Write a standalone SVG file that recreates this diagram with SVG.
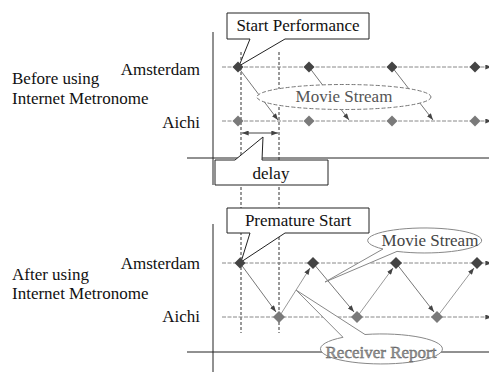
<svg xmlns="http://www.w3.org/2000/svg" width="489" height="372" viewBox="0 0 489 372" font-family="'Liberation Serif', 'DejaVu Serif', serif">
<defs>
<marker id="ah" viewBox="0 0 8 6" refX="8" refY="3" markerWidth="7" markerHeight="5" markerUnits="userSpaceOnUse" orient="auto"><path d="M0,0 L8,3 L0,6 z" fill="#444"/></marker>
<marker id="ahs" viewBox="0 0 8 6" refX="0" refY="3" markerWidth="7" markerHeight="5" markerUnits="userSpaceOnUse" orient="auto"><path d="M8,0 L0,3 L8,6 z" fill="#444"/></marker>
<style>
text{font-family:'Liberation Serif','DejaVu Serif',serif;font-size:17px;fill:#111}
.axis{stroke:#222;stroke-width:1;fill:none}
.guide{stroke:#333;stroke-width:1;stroke-dasharray:3,2;fill:none}
.tl{stroke:#888;stroke-width:1;stroke-dasharray:4,1.5;fill:none}
.dn{stroke:#777;stroke-width:1;fill:none}
.up{stroke:#999;stroke-width:1;fill:none}
.box{fill:#fff;stroke:#222;stroke-width:1}
.ams{fill:#444}
.aic{fill:#7a7a7a}
</style>
</defs>
<!-- axes -->
<g id="axes">
<line class="axis" x1="213" y1="32" x2="213" y2="185"/>
<line class="axis" x1="187" y1="158" x2="489" y2="158"/>
<line class="axis" x1="213" y1="224" x2="213" y2="372"/>
<line class="axis" x1="187" y1="352" x2="489" y2="352"/>
<line class="guide" x1="241" y1="52" x2="241" y2="333"/>
<line class="guide" x1="279" y1="52" x2="279" y2="333"/>
</g>
<!-- labels -->
<g id="labels" font-family="'Liberation Serif', 'DejaVu Serif', serif">
<text x="12" y="84">Before using</text>
<text x="12" y="104">Internet Metronome</text>
<text x="200" y="75" text-anchor="end">Amsterdam</text>
<text x="200" y="128" text-anchor="end">Aichi</text>
<text x="12" y="280">After using</text>
<text x="12" y="299">Internet Metronome</text>
<text x="200" y="269" text-anchor="end">Amsterdam</text>
<text x="200" y="322" text-anchor="end">Aichi</text>
</g>
<!-- connectors -->
<g id="connectors">
<line class="tl" x1="222" y1="67" x2="492" y2="67" marker-end="url(#ah)"/>
<line class="tl" x1="222" y1="121" x2="492" y2="121" marker-end="url(#ah)"/>
<line class="tl" x1="222" y1="263" x2="492" y2="263" marker-end="url(#ah)"/>
<line class="tl" x1="222" y1="317" x2="492" y2="317" marker-end="url(#ah)"/>
<line class="dn" x1="238" y1="67" x2="278" y2="120" marker-end="url(#ah)"/>
<line class="dn" x1="309" y1="67" x2="349" y2="120" marker-end="url(#ah)"/>
<line class="dn" x1="392" y1="67" x2="433" y2="120" marker-end="url(#ah)"/>
<line stroke="#444" stroke-width="1" x1="242" y1="133" x2="278" y2="133" marker-start="url(#ahs)" marker-end="url(#ah)"/>
<line class="dn" x1="240" y1="263" x2="276" y2="312" marker-end="url(#ah)"/>
<line class="up" x1="279" y1="317" x2="310" y2="268" marker-end="url(#ah)"/>
<line class="dn" x1="313" y1="263" x2="354" y2="312" marker-end="url(#ah)"/>
<line class="up" x1="357" y1="317" x2="393" y2="268" marker-end="url(#ah)"/>
<line class="dn" x1="396" y1="263" x2="434" y2="312" marker-end="url(#ah)"/>
<line class="up" x1="437" y1="317" x2="474" y2="268" marker-end="url(#ah)"/>
</g>
<!-- ellipse callouts -->
<g id="movie-top" font-family="'Liberation Serif', 'DejaVu Serif', serif">
<ellipse cx="344" cy="97" rx="87" ry="12.5" fill="#fff" stroke="#777" stroke-dasharray="4,2"/>
<text x="344" y="102" text-anchor="middle" font-size="17.5" style="fill:#555">Movie Stream</text>
</g>
<g id="movie-bottom" font-family="'Liberation Serif', 'DejaVu Serif', serif">
<path d="M383,249 L325,282 L397,251.4 A57,12.5 0 1 0 383,249 Z" fill="#fff" stroke="#888"/>
<text x="430" y="246" text-anchor="middle" font-size="17.5" style="fill:#444">Movie Stream</text>
</g>
<g id="receiver-report" font-family="'Liberation Serif', 'DejaVu Serif', serif">
<path d="M343,337.3 L296,290 L365,334.5 A61,15 0 1 1 343,337.3 Z" fill="#fff" stroke="#888"/>
<text x="381" y="358" text-anchor="middle" font-size="17.2" style="fill:#999;stroke:#555;stroke-width:0.4">Receiver Report</text>
</g>
<!-- boxes -->
<g id="start-performance" font-family="'Liberation Serif', 'DejaVu Serif', serif">
<path class="box" d="M227,13 H369 V39 H285 L239,66 L250,39 H227 Z"/>
<text x="298" y="31" text-anchor="middle" font-size="17.5">Start Performance</text>
</g>
<g id="delay" font-family="'Liberation Serif', 'DejaVu Serif', serif">
<path class="box" d="M215,160 H235 L263,137 L262,160 H328 V185 H215 Z"/>
<text x="271" y="179" text-anchor="middle" font-size="17.5">delay</text>
</g>
<g id="premature-start" font-family="'Liberation Serif', 'DejaVu Serif', serif">
<path class="box" d="M227,208 H369 V233 H285 L241,262 L250,233 H227 Z"/>
<text x="298" y="226" text-anchor="middle">Premature Start</text>
</g>
<!-- diamonds -->
<g id="diamonds">
<path class="ams" d="M238,61.5 l5.5,5.5 l-5.5,5.5 l-5.5,-5.5 z"/>
<path class="ams" d="M309,61.5 l5.5,5.5 l-5.5,5.5 l-5.5,-5.5 z"/>
<path class="ams" d="M392,61.5 l5.5,5.5 l-5.5,5.5 l-5.5,-5.5 z"/>
<path class="ams" d="M475,61.5 l5.5,5.5 l-5.5,5.5 l-5.5,-5.5 z"/>
<path class="aic" d="M238,115.5 l5.5,5.5 l-5.5,5.5 l-5.5,-5.5 z"/>
<path class="aic" d="M309,115.5 l5.5,5.5 l-5.5,5.5 l-5.5,-5.5 z"/>
<path class="aic" d="M392,115.5 l5.5,5.5 l-5.5,5.5 l-5.5,-5.5 z"/>
<path class="aic" d="M475,115.5 l5.5,5.5 l-5.5,5.5 l-5.5,-5.5 z"/>
<path class="ams" d="M240,257.5 l5.5,5.5 l-5.5,5.5 l-5.5,-5.5 z"/>
<path class="ams" d="M313,257 l6,6 l-6,6 l-6,-6 z"/>
<path class="ams" d="M396,257 l6,6 l-6,6 l-6,-6 z"/>
<path class="ams" d="M477,257 l6,6 l-6,6 l-6,-6 z"/>
<path class="aic" d="M279,311 l6,6 l-6,6 l-6,-6 z"/>
<path class="aic" d="M357,311 l6,6 l-6,6 l-6,-6 z"/>
<path class="aic" d="M437,311 l6,6 l-6,6 l-6,-6 z"/>
</g>
</svg>
